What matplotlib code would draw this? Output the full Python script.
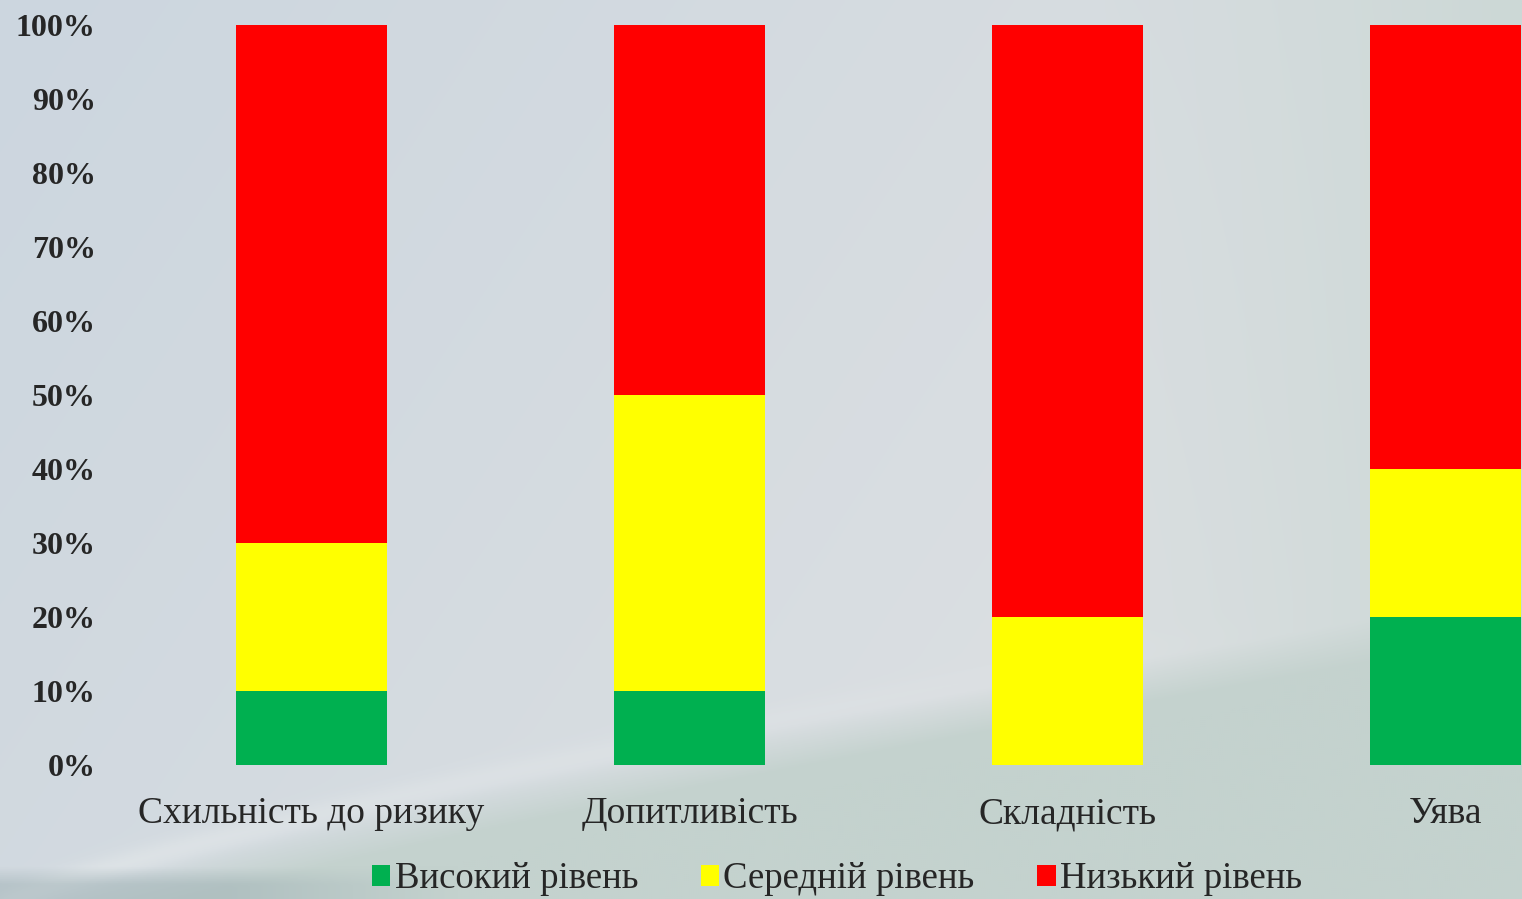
import numpy as np
import matplotlib
matplotlib.use("Agg")
import matplotlib.pyplot as plt
from matplotlib.ticker import PercentFormatter

categories = ["Схильність до ризику", "Допитливість", "Складність", "Уява"]
series_names = ["Високий рівень", "Середній рівень", "Низький рівень"]
high = [0.10, 0.10, 0.00, 0.20]
mid = [0.20, 0.40, 0.20, 0.20]
low = [0.70, 0.50, 0.80, 0.60]
colors = ["#00B050", "#FFFF00", "#FF0000"]
yticks = [0, 0.1, 0.2, 0.3, 0.4, 0.5, 0.6, 0.7, 0.8, 0.9, 1.0]

W, H = 1522, 899
fig = plt.figure(figsize=(W / 100, H / 100), dpi=100)

# background gradient (decorative)
bg = fig.add_axes([0, 0, 1, 1], zorder=-10)
yy, xx = np.mgrid[0:1:450j, 0:1:760j]  # yy: 0 top -> 1 bottom
top_left = np.array([204, 214, 223]) / 255
center = np.array([221, 224, 226]) / 255
right = np.array([204, 216, 214]) / 255
t = np.clip(xx * 0.9 + yy * 0.35, 0, 1)[..., None]
img = top_left * (1 - t) + center * t
r = np.clip((xx - 0.7) / 0.3, 0, 1)[..., None]
img = img * (1 - r) + right * r
# swoosh region lower right
curve = 1.02 - 0.36 * xx ** 0.8
green = np.array([196, 210, 206]) / 255
m = np.clip((yy - curve) / 0.05, 0, 1)[..., None]
img = img * (1 - m) + green * m
# light streak along swoosh edge
d = np.abs(yy - curve + 0.01)
streak = np.exp(-(d / 0.015) ** 2)[..., None] * 0.5 * np.clip(1 - xx * 1.2, 0, 1)[..., None]
img = img * (1 - streak) + np.array([232, 236, 236]) / 255 * streak
# darker band at bottom-left only
m2 = (np.clip((yy - 0.965) / 0.02, 0, 1) * np.clip((0.3 - xx) / 0.15, 0, 1))[..., None] * 0.55
img = img * (1 - m2) + np.array([160, 178, 182]) / 255 * m2
bg.imshow(img, aspect="auto", extent=[0, 1, 0, 1], origin="upper")
bg.set_axis_off()

left_px, right_px = 100, W
ax = fig.add_axes([left_px / W, (H - 765) / H, (right_px - left_px) / W, (765 - 25) / H])
ax.patch.set_alpha(0)
x = np.arange(len(categories))
bottom = np.zeros(len(categories))
for vals, name, c in zip([high, mid, low], series_names, colors):
    ax.bar(x, vals, width=0.4, bottom=bottom, color=c, label=name)
    bottom += np.array(vals)

ax.set_xlim((left_px - 311.5) / 378, (right_px - 311.5) / 378)
ax.set_ylim(0, 1)
ax.set_yticks(yticks)
ax.yaxis.set_major_formatter(PercentFormatter(1.0, decimals=0))
ax.set_xticks(x)
ax.set_xticklabels(categories, fontfamily="Liberation Serif", fontsize=27, color="#262626")
for lab in ax.get_yticklabels():
    lab.set_fontfamily("Liberation Serif")
    lab.set_fontweight("bold")
    lab.set_fontsize(23)
    lab.set_color("#262626")
ax.tick_params(axis="y", length=0, pad=3)
ax.tick_params(axis="x", length=0, pad=23)
for s in ax.spines.values():
    s.set_visible(False)

leg = fig.legend(loc="center", bbox_to_anchor=(837 / W, 1 - 879 / H), ncol=3, frameon=False,
                 prop={"family": "Liberation Serif", "size": 26.5},
                 handlelength=0.5, handleheight=0.5, handletextpad=0.12, columnspacing=1.7)
for t_ in leg.get_texts():
    t_.set_color("#262626")

fig.savefig("out.png", dpi=100)
